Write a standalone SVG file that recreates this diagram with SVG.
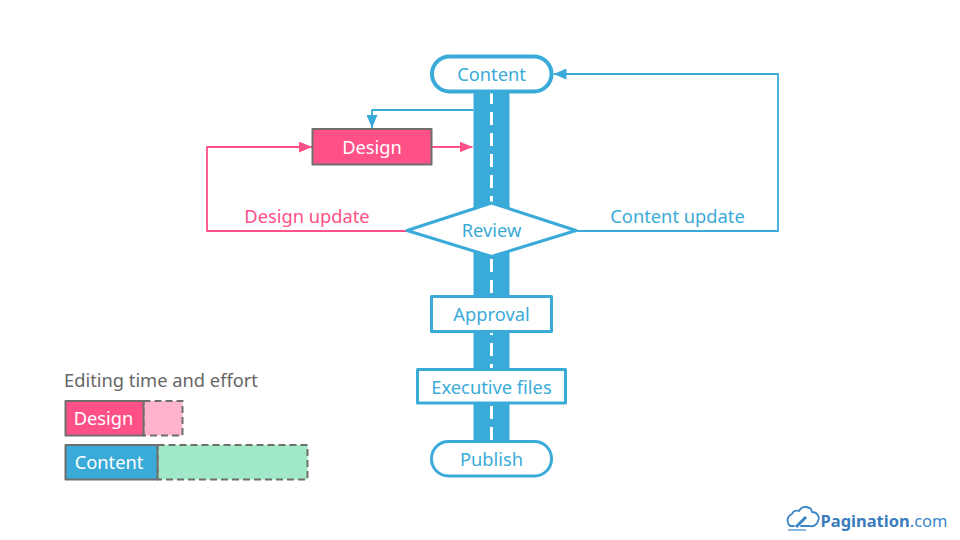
<svg xmlns="http://www.w3.org/2000/svg" width="960" height="540" viewBox="0 0 960 540">
<defs>
<marker id="ab" markerUnits="userSpaceOnUse" markerWidth="13" markerHeight="11" refX="13" refY="5.5" orient="auto"><path d="M0 0L13 5.500L0 11Z" fill="#3aabd9"/></marker>
<marker id="ap" markerUnits="userSpaceOnUse" markerWidth="13" markerHeight="11" refX="13" refY="5.5" orient="auto"><path d="M0 0L13 5.500L0 11Z" fill="#ff5087"/></marker>
</defs>
<style>
text{font-family:"Noto Sans","Open Sans",sans-serif;font-size:18.3px;text-anchor:middle}
.b{fill:#3aabd9}.w{fill:#fff}.p{fill:#ff5087}
.sb{fill:#fff;stroke:#3aabd9;stroke-width:3.5;stroke-linejoin:round}
.cb{fill:none;stroke:#3aabd9;stroke-width:1.800;stroke-linejoin:round}
.cp{fill:none;stroke:#ff5087;stroke-width:1.800;stroke-linejoin:round}
.g{stroke:#6e6e6e;stroke-width:2;stroke-linejoin:round}
.d{stroke:#6e6e6e;stroke-width:2;stroke-dasharray:7 4}
</style>
<g id="road">
<rect x="473.500" y="88" width="36" height="356" fill="#3aabd9"/>
<path d="M491.500 91V442" fill="none" stroke="#fff" stroke-width="3" stroke-dasharray="13 8"/>
</g>
<g id="connectors">
<path class="cb" d="M473.500 110H372V128" marker-end="url(#ab)"/>
<path class="cp" d="M432 147H472.500" marker-end="url(#ap)"/>
<path class="cp" d="M406 231H207V147H312" marker-end="url(#ap)"/>
<path class="cb" d="M577 231H778V74H553.500" marker-end="url(#ab)"/>
</g>
<g id="node-content"><rect class="sb" x="432" y="56.500" width="119.500" height="35" rx="17.500" style="stroke-width:4"/><text class="b" x="491.500" y="81">Content</text></g>
<g id="node-design"><rect class="p g" x="312.500" y="129" width="119" height="35.500"/><text class="w" x="372" y="154">Design</text></g>
<g id="node-review"><path class="sb" d="M491.500 203L576 230.500 491.500 256.500 407 230.500Z" style="stroke-width:3"/><text class="b" x="491.500" y="237">Review</text></g>
<g id="node-approval"><rect class="sb" x="431.500" y="296.500" width="120" height="35" style="stroke-width:3"/><text class="b" x="491.500" y="321">Approval</text></g>
<g id="node-executive"><rect class="sb" x="417.500" y="369.500" width="148" height="33.500" style="stroke-width:3"/><text class="b" x="491.500" y="393.500">Executive files</text></g>
<g id="node-publish"><rect class="sb" x="431.500" y="441.500" width="120" height="34.500" rx="17" style="stroke-width:3"/><text class="b" x="491.500" y="466">Publish</text></g>
<g id="label-design-update"><text class="p" x="307" y="223">Design update</text></g>
<g id="label-content-update"><text class="b" x="677.500" y="223">Content update</text></g>
<g id="legend">
<text x="161" y="386.500" fill="#666">Editing time and effort</text>
<rect x="143.500" y="401" width="39" height="34.500" fill="#ffb3cc" class="d"/>
<rect x="65.500" y="401" width="78" height="34.500" class="p g"/>
<text class="w" x="103.500" y="424.500">Design</text>
<rect x="157.500" y="445" width="150" height="34.500" fill="#a0e8c8" class="d"/>
<rect x="65.500" y="445" width="92" height="34.500" class="b g"/>
<text class="w" x="109" y="468.500">Content</text>
</g>
<g id="logo">
<path d="M794 526H790C786 522 787 516 792 514C793 511 796 510 799 511C802 505 811 506 812 512C818 512 820 518 818 521C817 525 813 527 810 526H801" fill="none" stroke="#3a86c8" stroke-width="1.800" stroke-linejoin="round" stroke-linecap="round"/>
<path d="M796 527L806 517" stroke="#3a86c8" stroke-width="3"/>
<path d="M788 530H806" stroke="#3a86c8" stroke-width="1.200"/>
<text x="884" y="527" style="font-size:16.500px;font-weight:700" fill="#3a7cbd">Pagination<tspan font-weight="400" fill="#3a86c8">.com</tspan></text>
</g>
</svg>
